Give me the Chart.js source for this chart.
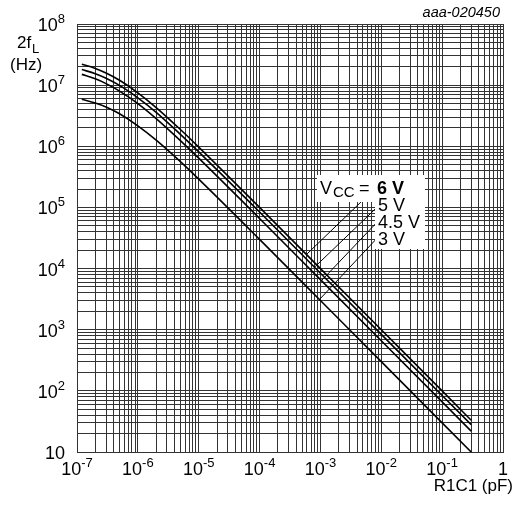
<!DOCTYPE html>
<html>
<head>
<meta charset="utf-8">
<script src="https://cdn.jsdelivr.net/npm/chart.js@4.4.0/dist/chart.umd.min.js"></script>
<style>
  html, body { margin: 0; padding: 0; background: #fff; }
  canvas { display: block; }
</style>
</head>
<body>
<canvas id="fChart" width="515" height="507"></canvas>
<script>
// ---------- values ----------
const rc   = [1.2e-7, 2e-7, 3e-7, 5e-7, 1e-6, 2e-6, 5e-6, 1e-5, 1e-4, 1e-3, 1e-2, 1e-1, 0.3];
const f6V  = [2.2e7, 1.88e7, 1.58e7, 1.2e7, 7.5e6, 4.3e6, 1.88e6, 9.7e5, 1.0e5, 1.0e4, 1000, 100, 33];
const f5V  = [1.8e7, 1.54e7, 1.3e7, 9.9e6, 6.2e6, 3.6e6, 1.57e6, 8.1e5, 8.4e4, 8400, 840, 84, 28];
const f45V = [1.5e7, 1.27e7, 1.06e7, 8.0e6, 5.0e6, 2.84e6, 1.24e6, 6.4e5, 6.6e4, 6600, 660, 66, 22];
const f3V  = [5.9e6, 5.1e6, 4.4e6, 3.4e6, 2.16e6, 1.26e6, 5.6e5, 2.9e5, 3.0e4, 3000, 300, 30, 10];

// decade exponents used for the tick labels / grid
const xExp = [-7, -6, -5, -4, -3, -2, -1, 0];
const yExp = [1, 2, 3, 4, 5, 6, 7, 8];

const seriesNames = ['6 V', '5 V', '4.5 V', '3 V'];

// leader lines from the labels down to each curve (label end, curve point)
const lead6V  = [{x: 6.35e-3, y: 1.66e5}, {x: 5.9e-4,  y: 1.7e4}];
const lead5V  = [{x: 8.28e-3, y: 9.8e4},  {x: 7.98e-4, y: 1.05e4}];
const lead45V = [{x: 8.28e-3, y: 5.57e4}, {x: 1.04e-3, y: 6.35e3}];
const lead3V  = [{x: 7.98e-3, y: 2.93e4}, {x: 9.6e-4,  y: 3100}];

const FONT = '"Liberation Sans", Arial, Helvetica, sans-serif';

const pts = ys => rc.map((x, i) => ({x, y: ys[i]}));

// 1..9 per decade, last decade only its first line
function decadeTicks(exps) {
  const t = [];
  exps.forEach((e, i) => {
    for (let m = 1; m <= 9; m++) {
      if (i === exps.length - 1 && m > 1) break;
      t.push({value: m * Math.pow(10, e)});
    }
  });
  return t;
}

// "10" with a raised exponent; y is the baseline of the main text
function drawPow(ctx, e, x, y, align, hideExp) {
  const main = e === 0 ? '1' : '10';
  const sup = (e === 0 || e === hideExp) ? '' : String(e);
  ctx.font = '18px ' + FONT;
  const wm = ctx.measureText(main).width;
  ctx.font = '13px ' + FONT;
  const ws = sup ? ctx.measureText(sup).width : 0;
  const total = wm + ws;
  const x0 = align === 'right' ? x - total : x - total / 2;
  ctx.textAlign = 'left';
  ctx.textBaseline = 'alphabetic';
  ctx.font = '18px ' + FONT;
  ctx.fillText(main, x0, y);
  if (sup) {
    ctx.font = '13px ' + FONT;
    ctx.fillText(sup, x0 + wm, y - 8);
  }
}

const textPlugin = {
  id: 'texts',
  afterDraw(chart) {
    const {ctx, chartArea: a, scales: {x, y}} = chart;
    ctx.save();
    ctx.fillStyle = '#000';

    yExp.forEach(e => drawPow(ctx, e, a.left - 12, y.getPixelForValue(Math.pow(10, e)) + 7, 'right', 1));
    xExp.forEach(e => drawPow(ctx, e, x.getPixelForValue(Math.pow(10, e)), a.bottom + 23, 'center', null));

    // axis titles
    ctx.textAlign = 'left';
    ctx.font = '17px ' + FONT;
    ctx.fillText('2f', 17, 48);
    ctx.font = '13px ' + FONT;
    ctx.fillText('L', 32, 53);
    ctx.font = '17px ' + FONT;
    ctx.fillText('(Hz)', 10, 70);
    ctx.textAlign = 'right';
    ctx.fillText('R1C1 (pF)', 513, 491);

    ctx.font = 'italic 14.5px ' + FONT;
    ctx.fillText('aaa-020450', 500, 17);

    // series labels on white
    ctx.fillStyle = '#fff';
    ctx.fillRect(317, 175, 108, 27);
    ctx.fillRect(375, 201, 50, 48);
    ctx.fillStyle = '#000';
    ctx.textAlign = 'left';
    ctx.font = '18px ' + FONT;
    ctx.fillText('V', 320, 194);
    ctx.font = '15px ' + FONT;
    ctx.fillText('CC', 333, 197);
    ctx.font = '18px ' + FONT;
    ctx.fillText('=', 359, 194);
    ctx.font = 'bold 18px ' + FONT;
    ctx.fillText(seriesNames[0], 377, 194);
    ctx.font = '18px ' + FONT;
    ctx.fillText(seriesNames[1], 378, 211);
    ctx.fillText(seriesNames[2], 378, 228);
    ctx.fillText(seriesNames[3], 378, 245);
    ctx.restore();
  }
};

const curve = (label, ys) => ({
  label, data: pts(ys), borderColor: '#000', borderWidth: 1.6,
  pointRadius: 0, fill: false, cubicInterpolationMode: 'monotone'
});
const leader = data => ({
  data, borderColor: '#000', borderWidth: 1, pointRadius: 0, fill: false, tension: 0
});

const gridOpts = {color: '#333', lineWidth: 1, drawTicks: false};

new Chart(document.getElementById('fChart').getContext('2d'), {
  type: 'line',
  data: {
    datasets: [
      curve(seriesNames[0], f6V), curve(seriesNames[1], f5V),
      curve(seriesNames[2], f45V), curve(seriesNames[3], f3V),
      leader(lead6V), leader(lead5V), leader(lead45V), leader(lead3V)
    ]
  },
  options: {
    responsive: false,
    animation: false,
    devicePixelRatio: 1,
    layout: {padding: {left: 77, top: 24, right: 12, bottom: 55}},
    plugins: {legend: {display: false}, tooltip: {enabled: false}},
    scales: {
      x: {
        type: 'logarithmic', min: 1e-7, max: 1,
        grid: gridOpts, border: {color: '#333'},
        ticks: {display: false},
        afterBuildTicks: s => { s.ticks = decadeTicks(xExp); }
      },
      y: {
        type: 'logarithmic', min: 10, max: 1e8,
        grid: gridOpts, border: {color: '#333'},
        ticks: {display: false},
        afterBuildTicks: s => { s.ticks = decadeTicks(yExp); }
      }
    }
  },
  plugins: [textPlugin]
});
</script>
</body>
</html>
